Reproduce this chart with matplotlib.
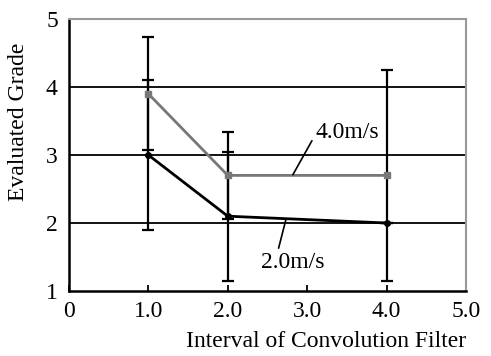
import matplotlib.pyplot as plt

plt.rcParams['font.family'] = ['Liberation Serif', 'DejaVu Serif']

x = [1.0, 2.0, 4.0]

# 4.0 m/s series
fast_y = [3.9, 2.7, 2.7]
fast_err = [0.83, 0.64, 1.55]

# 2.0 m/s series
slow_y = [3.0, 2.1, 2.0]
slow_lo = [1.1, 0.95, 0.0]
slow_hi = [1.1, 0.95, 0.0]

xticks = [0, 1, 2, 3, 4, 5]
xticklabels = ['0', '1.0', '2.0', '3.0', '4.0', '5.0']
yticks = [1, 2, 3, 4, 5]

fs = 17

fig = plt.figure(figsize=(4.91, 3.56), dpi=100)
ax = fig.add_axes([0.1405, 0.1826, 0.8085, 0.764])

for g in [2, 3, 4]:
    ax.axhline(g, color='black', lw=1.3, zorder=1)

ax.errorbar(x, fast_y, yerr=fast_err, fmt='none', ecolor='black',
            elinewidth=1.6, capsize=4, capthick=1.6, zorder=2)
ax.errorbar(x, slow_y, yerr=[slow_lo, slow_hi], fmt='none', ecolor='black',
            elinewidth=1.6, capsize=4, capthick=1.6, zorder=2)

ax.plot(x, fast_y, color='#777777', lw=2, marker='s', ms=5, zorder=3)
ax.plot(x, slow_y, color='black', lw=2, marker='o', ms=4, zorder=3)

# labels for the two lines
ax.annotate('', xy=(2.82, 2.71), xytext=(3.06, 3.21),
            arrowprops=dict(arrowstyle='-', color='black', lw=1.2,
                            shrinkA=0, shrinkB=0))
ax.text(3.1, 3.17, '4.0m/s', fontsize=fs, ha='left', va='bottom')
ax.annotate('', xy=(2.73, 2.04), xytext=(2.64, 1.63),
            arrowprops=dict(arrowstyle='-', color='black', lw=1.2,
                            shrinkA=0, shrinkB=0))
ax.text(2.82, 1.58, '2.0m/s', fontsize=fs, ha='center', va='top')

ax.set_xlim(0, 5)
ax.set_ylim(1, 5)
ax.set_xticks(xticks)
ax.set_xticklabels(xticklabels, fontsize=fs)
ax.set_yticks(yticks)
ax.set_yticklabels([str(v) for v in yticks], fontsize=fs)
ax.tick_params(axis='x', direction='in', length=4, width=1.3, pad=7)
ax.tick_params(axis='y', length=0, pad=8)

for side in ['left', 'bottom']:
    ax.spines[side].set_color('black')
    ax.spines[side].set_linewidth(1.8)
for side in ['top', 'right']:
    ax.spines[side].set_color('#999999')
    ax.spines[side].set_linewidth(1.5)

fig.text(0.664, 0.04, 'Interval of Convolution Filter', fontsize=fs,
         ha='center', va='center')
fig.text(0.037, 0.657, 'Evaluated Grade', fontsize=fs, rotation=90,
         ha='center', va='center')

fig.savefig('out.png', dpi=100)
